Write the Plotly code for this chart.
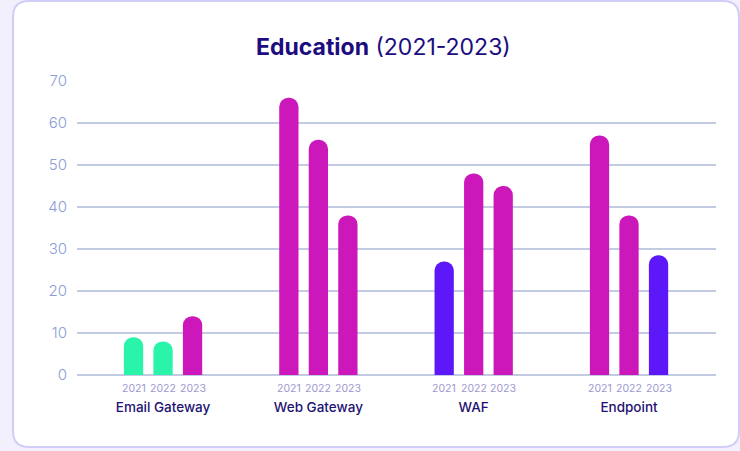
import plotly.graph_objects as go

categories = ["Email Gateway", "Web Gateway", "WAF", "Endpoint"]
years = ["2021", "2022", "2023"]
values_2021 = [9, 66, 27, 57]
values_2022 = [8, 56, 48, 38]
values_2023 = [14, 38, 45, 28.5]

GREEN = "#2af4aa"
MAGENTA = "#cc17ba"
PURPLE = "#5c18f8"
colors_2021 = [GREEN, MAGENTA, PURPLE, MAGENTA]
colors_2022 = [GREEN, MAGENTA, MAGENTA, MAGENTA]
colors_2023 = [MAGENTA, MAGENTA, MAGENTA, PURPLE]

y_ticks = [0, 10, 20, 30, 40, 50, 60, 70]

W, H = 740, 451
ML, MR, MT, MB = 77, 24, 81, 76
PW, PH = W - ML - MR, H - MT - MB

def px(x):
    return (x - ML) / PW

def py(y):
    return (H - MB - y) / PH

fig = go.Figure()
for yr, vals, cols in [("2021", values_2021, colors_2021),
                       ("2022", values_2022, colors_2022),
                       ("2023", values_2023, colors_2023)]:
    fig.add_trace(go.Bar(x=categories, y=vals, name=yr,
                         marker=dict(color=cols, line=dict(width=0)),
                         showlegend=False))

# card background with rounded corners
x0, y0, x1, y1, r = 13, 1, 739, 447, 16
path = (f"M {px(x0 + r)},{py(y0)} L {px(x1 - r)},{py(y0)} "
        f"Q {px(x1)},{py(y0)} {px(x1)},{py(y0 + r)} "
        f"L {px(x1)},{py(y1 - r)} Q {px(x1)},{py(y1)} {px(x1 - r)},{py(y1)} "
        f"L {px(x0 + r)},{py(y1)} Q {px(x0)},{py(y1)} {px(x0)},{py(y1 - r)} "
        f"L {px(x0)},{py(y0 + r)} Q {px(x0)},{py(y0)} {px(x0 + r)},{py(y0)} Z")
fig.add_shape(type="path", path=path, xref="paper", yref="paper",
              fillcolor="white", line=dict(color="#d0cef8", width=2), layer="below")

annotations = []
offsets = [-29.5, 0, 29.5]
for cat in categories:
    for yr, off in zip(years, offsets):
        annotations.append(dict(x=cat, y=0, xref="x", yref="y", text=yr,
                                showarrow=False, xshift=off, yshift=-13,
                                font=dict(family="Inter", size=10.5, color="#9d97cf")))

annotations.append(dict(x=px(383), y=py(47), xref="paper", yref="paper",
                        text="<b>Education</b> (2021-2023)", showarrow=False,
                        font=dict(family="Inter", size=23, color="#1d0c80"),
                        xanchor="center", yanchor="middle"))

fig.update_layout(
    width=W, height=H,
    margin=dict(l=ML, r=MR, t=MT, b=MB),
    paper_bgcolor="#f1f0fc",
    plot_bgcolor="rgba(0,0,0,0)",
    barmode="group",
    bargap=0.43,
    bargroupgap=0.347,
    barcornerradius="50%",
    annotations=annotations,
    font=dict(family="Inter"),
    xaxis=dict(range=[-0.554, 3.56], showgrid=False, zeroline=False, showline=False,
               ticks="", ticklabelstandoff=22,
               tickfont=dict(family="Inter", size=13.5, weight=500, color="#1e1272")),
    yaxis=dict(range=[0, 70], tickvals=y_ticks, showgrid=True, gridcolor="#c3cbe2",
               gridwidth=1.5, zeroline=True, zerolinecolor="#c3cbe2", zerolinewidth=1.5,
               showline=False, ticks="", ticklabelstandoff=9,
               tickfont=dict(family="Inter", size=15, weight=300, color="#8a9dd6")),
)

fig.write_html("out.html")
